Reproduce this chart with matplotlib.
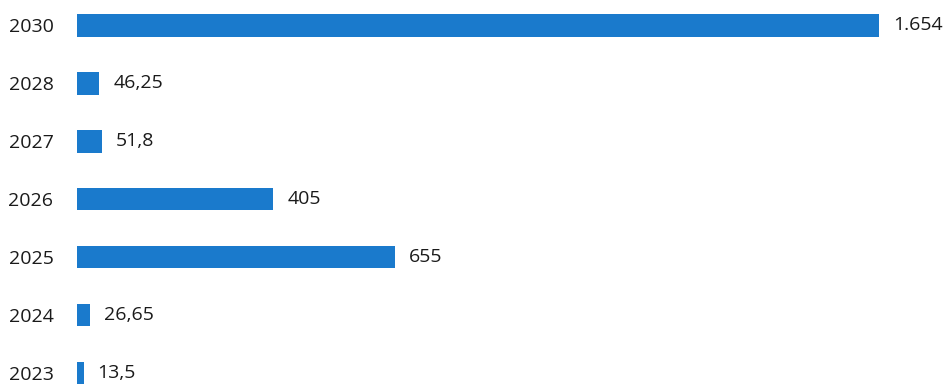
import matplotlib.pyplot as plt

# ------------------------------
# Data (top to bottom)
# ------------------------------
years = ["2030", "2028", "2027", "2026", "2025", "2024", "2023"]
values = [1654, 46.25, 51.8, 405, 655, 26.65, 13.5]

BAR_COLOR = "#1a7acc"
TEXT_COLOR = "#1a1a1a"


def fmt_value(v):
    # European style: dot for thousands, comma for decimals
    if float(v).is_integer():
        return f"{v:,.0f}".replace(",", ".")
    return str(v).replace(".", ",")


plt.rcParams["font.family"] = ["Open Sans", "DejaVu Sans"]

fig = plt.figure(figsize=(9.47, 3.85), dpi=100)
ax = fig.add_axes([77 / 947, 0, 1 - 77 / 947, 1])

pos = list(range(len(years)))
bars = ax.barh(pos, values, height=0.39, color=BAR_COLOR)

for rect, v in zip(bars, values):
    ax.annotate(
        fmt_value(v),
        xy=(rect.get_width(), rect.get_y() + rect.get_height() / 2),
        xytext=(14, 0),
        textcoords="offset pixels",
        va="center",
        ha="left",
        fontsize=14,
        color=TEXT_COLOR,
    )

ax.set_xlim(0, 1794)
ax.set_ylim(6.21, -0.44)
ax.set_yticks(pos)
ax.set_yticklabels(years, fontsize=14, color=TEXT_COLOR)
ax.tick_params(axis="y", length=0, pad=17)
ax.set_xticks([])
for spine in ax.spines.values():
    spine.set_visible(False)

fig.savefig("out.png", dpi=100)
plt.close(fig)
